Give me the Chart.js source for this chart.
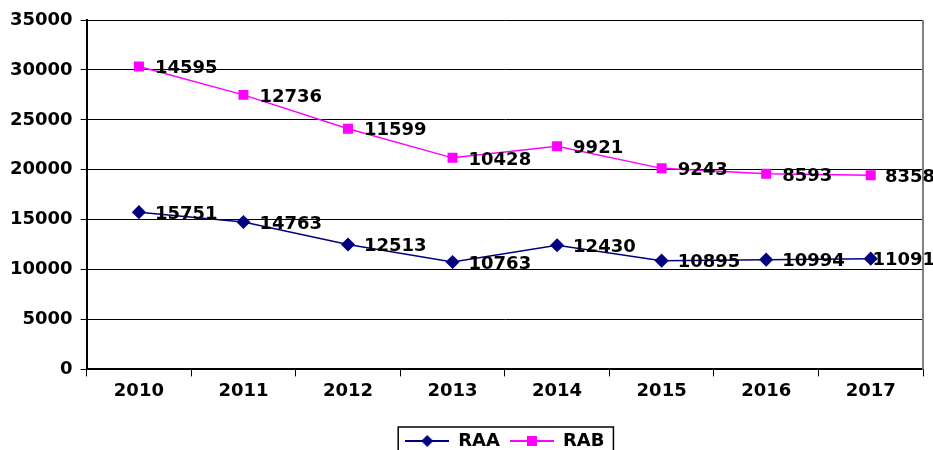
<!DOCTYPE html>
<html>
<head>
<meta charset="utf-8">
<script src="https://cdn.jsdelivr.net/npm/chart.js@4.4.0/dist/chart.umd.min.js"></script>
<style>
    html, body { margin: 0; padding: 0; background: #fff; overflow: hidden; }
    #wrap { width: 933px; height: 460px; }
</style>
</head>
<body>
<div id="wrap"><canvas id="chart" width="933" height="460"></canvas></div>
<script>
const years = ['2010', '2011', '2012', '2013', '2014', '2015', '2016', '2017'];
const raaValues = [15751, 14763, 12513, 10763, 12430, 10895, 10994, 11091];
const rabValues = [14595, 12736, 11599, 10428, 9921, 9243, 8593, 8358];
const yTicks = [0, 5000, 10000, 15000, 20000, 25000, 30000, 35000];

const FONT = 'DejaVu Sans, Verdana, sans-serif';

// legend swatch: line with marker, like the original
function makeSwatch(color, shape) {
    const c = document.createElement('canvas');
    c.width = 44;
    c.height = 14;
    const g = c.getContext('2d');
    g.strokeStyle = color;
    g.lineWidth = 2;
    g.beginPath();
    g.moveTo(0, 7);
    g.lineTo(44, 7);
    g.stroke();
    g.fillStyle = color;
    g.beginPath();
    if (shape === 'diamond') {
        g.moveTo(22, 1); g.lineTo(28, 7); g.lineTo(22, 13); g.lineTo(16, 7);
    } else {
        g.rect(17, 2, 10, 10);
    }
    g.closePath();
    g.fill();
    return c;
}

const valueLabels = {
    id: 'valueLabels',
    afterDatasetsDraw(chart) {
        const ctx = chart.ctx;
        ctx.save();
        ctx.font = 'bold 18px ' + FONT;
        ctx.fillStyle = '#000';
        ctx.textAlign = 'left';
        ctx.textBaseline = 'middle';
        chart.data.datasets.forEach((ds, i) => {
            chart.getDatasetMeta(i).data.forEach((pt, j) => {
                const txt = String(ds.data[j]);
                const w = ctx.measureText(txt).width;
                // keep the label inside the canvas, like the original does
                const x = Math.min(pt.x + 16, chart.width - w + 2);
                ctx.fillText(txt, x, pt.y + 2);
            });
        });
        ctx.restore();
    }
};

const frame = {
    id: 'frame',
    afterLayout(chart) {
        // centre the legend under the plot area instead of the canvas
        const a = chart.chartArea;
        const l = chart.legend;
        const d = (a.left + a.right) / 2 - (l.left + l.right) / 2;
        l.left += d;
        l.right += d;
    },
    beforeDatasetsDraw(chart) {
        const a = chart.chartArea;
        const ctx = chart.ctx;
        ctx.save();
        ctx.strokeStyle = '#808080';
        ctx.lineWidth = 2;
        ctx.beginPath();
        ctx.moveTo(a.right, a.top);
        ctx.lineTo(a.right, a.bottom);
        ctx.stroke();
        ctx.restore();
    },
    afterDraw(chart) {
        const boxes = chart.legend.legendHitBoxes;
        if (!boxes || !boxes.length) return;
        const first = boxes[0];
        const last = boxes[boxes.length - 1];
        const ctx = chart.ctx;
        ctx.save();
        ctx.strokeStyle = '#000';
        ctx.lineWidth = 1.5;
        ctx.strokeRect(first.left - 7, first.top - 5, last.left + last.width - first.left + 16, 40);
        ctx.restore();
    }
};

new Chart(document.getElementById('chart'), {
    type: 'line',
    data: {
        labels: years,
        datasets: [
            {
                label: 'RAA',
                data: raaValues,
                borderColor: '#000080',
                backgroundColor: '#000080',
                borderWidth: 1.5,
                pointStyle: 'rectRot',
                pointRadius: 6,
                pointHoverRadius: 6,
                fill: false,
                tension: 0
            },
            {
                label: 'RAB',
                data: rabValues,
                borderColor: '#FF00FF',
                backgroundColor: '#FF00FF',
                borderWidth: 1.5,
                pointStyle: 'rect',
                pointRadius: 6,
                pointHoverRadius: 6,
                fill: false,
                tension: 0
            }
        ]
    },
    options: {
        responsive: false,
        animation: false,
        layout: { padding: { left: 2, right: 10, top: 20, bottom: 0 } },
        plugins: {
            legend: {
                position: 'bottom',
                labels: {
                    font: { family: FONT, size: 18, weight: 'bold' },
                    color: '#000',
                    usePointStyle: true,
                    pointStyleWidth: 44,
                    padding: 10,
                    generateLabels(chart) {
                        return chart.data.datasets.map((ds, i) => ({
                            text: ds.label,
                            pointStyle: makeSwatch(ds.borderColor, i === 0 ? 'diamond' : 'square'),
                            fillStyle: ds.borderColor,
                            strokeStyle: ds.borderColor,
                            lineWidth: 0,
                            hidden: false,
                            datasetIndex: i
                        }));
                    }
                }
            },
            tooltip: { enabled: false }
        },
        scales: {
            x: {
                offset: true,
                afterFit(scale) {
                    scale.height += 16;
                },
                grid: {
                    offset: true,
                    drawOnChartArea: false,
                    drawTicks: true,
                    tickLength: 7,
                    color: '#000'
                },
                border: { display: true, color: '#000', width: 2 },
                ticks: {
                    font: { family: FONT, size: 18, weight: 'bold' },
                    color: '#000',
                    padding: 4
                }
            },
            y: {
                stacked: true,
                min: 0,
                max: 35000,
                afterBuildTicks(axis) {
                    axis.ticks = yTicks.map(v => ({ value: v }));
                },
                grid: {
                    color: '#000',
                    lineWidth: 1,
                    drawTicks: true,
                    tickLength: 6
                },
                border: { display: true, color: '#000', width: 2 },
                ticks: {
                    font: { family: FONT, size: 18, weight: 'bold' },
                    color: '#000',
                    padding: 8,
                    callback: v => String(v)
                }
            }
        }
    },
    plugins: [valueLabels, frame]
});
</script>
</body>
</html>
